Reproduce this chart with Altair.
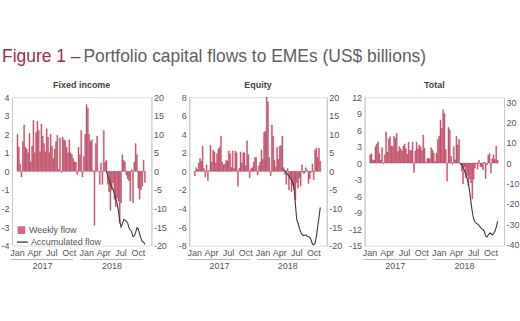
import altair as alt
import pandas as pd

FONT = "Liberation Sans, Arial, sans-serif"
BAR_FILL = "#d06a80"
BAR_EDGE = "#a8203f"
LINE_COL = "#3a3a3a"
AXIS_COL = "#555555"
LAB_SIZE = 9

# ---------------- data ----------------
first_week = "2017-01-04"
n_weeks = 97
week_dates = pd.date_range(first_week, periods=n_weeks, freq="7D")

fixed_income = [
    2.0, 1.3, 0.4, -0.3, 1.6, 2.5, 1.3, 1.2, 1.0, 2.05,
    0.5, 1.35, 2.75, 1.0, 2.1, 2.7, 2.2, 1.05, 2.55, 1.9,
    1.5, 1.05, 2.3, 1.85, 1.0, 2.0, 1.35, 0.7, 1.2, 1.6,
    1.95, 0.1, 1.8, -0.05, 1.85, 1.7, 1.65, 1.3, 1.0, 1.7,
    1.0, 0.9, 0.7, 0.5, 0.5, -0.15, 1.3, 0.9, 2.2, -0.3,
    0.8, 2.0, 3.6, 3.4, 2.0, 1.6, 1.7, 0.05, -2.9, 1.5,
    1.9, 0.0, -0.7, 0.45, -0.7, 2.2, 0.5, 0.6, -0.7, -1.1,
    -2.1, -1.0, -0.6, -1.5, -1.9, -1.4, -1.6, -2.8, -1.7, 0.9,
    0.6, 0.5, -0.2, -0.4, -0.5, -1.6, 0.1, -1.7, 0.5, 1.5,
    0.9, -0.9, -1.5, -1.0, -0.8, 0.6, -0.6,
]
equity = [
    -0.5, 0.4, 0.2, 0.9, 1.4, 1.1, 2.7, 0.3, -0.6, 0.7,
    -1.0, 0.1, 2.8, 1.0, 2.3, 2.1, 0.9, 1.9, 2.4, 2.6,
    3.8, 1.0, 0.7, 0.8, 1.2, 1.1, 2.2, 1.9, 0.4, 2.2,
    0.3, 2.2, 2.0, -1.6, 0.3, 2.1, 0.9, 2.0, 2.0, 0.6,
    3.3, 1.8, -0.7, 0.3, 0.4, 1.0, 1.5, 1.5, -0.4, 0.6,
    1.0, 2.3, 1.3, 4.2, 4.3, 8.0, 7.5, 1.5, -0.5, 5.0,
    3.8, 1.2, 0.5, 2.6, 1.3, 2.7, 2.8, 3.8, 0.4, -0.3,
    -1.4, 0.3, -2.0, -0.7, -2.2, -1.5, -2.0, -3.1, -1.2, -1.8,
    -0.7, -1.6, 0.7, -0.2, -0.2, 0.4, 0.1, -1.3, -0.8, -0.1,
    0.8, -0.9, 2.3, 2.5, 1.5, 2.5, 1.1,
]
total = [
    1.5, 1.7, 0.6, 0.5, 3.0, 3.5, 3.9, 1.7, 0.5, 2.8,
    -0.1, 1.5, 5.7, 2.0, 4.4, 4.8, 3.1, 3.0, 4.9, 4.5,
    5.4, 2.1, 3.0, 2.6, 2.2, 3.1, 3.5, 2.6, 1.6, 3.8,
    2.3, 2.3, 3.8, -1.7, 2.2, 3.8, 2.6, 3.3, 3.0, 2.3,
    5.1, 2.7, 0.1, 0.8, 0.9, 0.8, 2.8, 2.4, 1.8, 0.3,
    1.8, 4.3, 4.9, 7.8, 6.3, 9.7, 9.0, 2.5, -3.3, 6.5,
    6.0, 1.2, -0.2, 3.0, 0.6, 4.9, 3.3, 4.3, -0.3, -1.4,
    -3.8, -0.7, -2.6, -2.2, -4.1, -2.9, -3.6, -6.5, -2.9, -0.9,
    -0.1, -1.1, 0.5, -0.6, -0.7, -1.2, 0.2, -2.8, -0.3, 1.4,
    1.8, -1.8, 0.8, 1.5, 0.7, 3.1, 0.5,
]

# accumulated flows (start week index, values)
fi_acc_start = 67
fi_acc = [0, -1.2, -2.3, -3.4, -4.3, -4.9, -6.0, -7.2, -8.7, -10.6,
          -13.3, -15.0, -14.2, -13.0, -13.1, -13.5, -13.9, -15.2, -15.8, -16.2,
          -17.6, -17.4, -16.5, -15.2, -15.5, -16.9, -18.0, -18.9, -19.0, -19.7]
eq_acc_start = 68
eq_acc = [0.4, 0.2, -0.3, -0.8, -1.2, -1.9, -2.4, -3.0, -4.6, -9.0,
          -13.0, -14.0, -15.3, -16.3, -17.0, -17.3, -17.2, -17.1, -17.5, -17.6,
          -17.8, -18.5, -19.6, -19.8, -19.4, -17.5, -15.0, -12.5, -9.7]
tot_acc_start = 68
tot_acc = [0, -0.5, -2.0, -3.5, -5.5, -7.5, -10.0, -14.0, -19.5, -24.0,
           -27.5, -28.8, -29.5, -30.0, -30.6, -31.4, -32.2, -32.6, -33.5, -35.8,
           -36.3, -35.3, -34.4, -34.5, -35.3, -34.6, -33.5, -31.5, -28.6]

x_domain = ["2017-01-01", "2018-11-15"]
month_ticks = ["2017-01-01", "2017-04-01", "2017-07-01", "2017-10-01",
               "2018-01-01", "2018-04-01", "2018-07-01", "2018-10-01"]
year_labels = ["2017", "2018"]
year_label_dates = ["2017-05-16", "2018-05-17"]
year_line_starts = ["2016-12-01", "2017-12-04"]
year_line_ends = ["2017-10-24", "2018-10-28"]

title_parts = ["Figure 1 –", "Portfolio capital flows to EMEs (US$ billions)"]
panel_names = ["Fixed income", "Equity", "Total"]
legend_labels = ["Weekly flow", "Accumulated flow"]


def dt(s):
    t = pd.Timestamp(s)
    return alt.DateTime(year=t.year, month=t.month, date=t.day)


PANEL_H = 149

X_SCALE = alt.Scale(domain=[dt(x_domain[0]), dt(x_domain[1])])
X_AXIS = alt.Axis(values=[dt(m) for m in month_ticks], format="%b", title=None,
                  ticks=False, domain=False, grid=False, labelPadding=3,
                  labelFlush=False, labelOverlap=False, labelFont=FONT,
                  labelFontSize=LAB_SIZE, labelColor=AXIS_COL)


def xenc(field):
    return alt.X(field + ":T", scale=X_SCALE, axis=X_AXIS)


def panel(name, weekly, acc, acc_start, left_dom, left_ticks, right_dom, right_ticks,
          width, with_legend=False, with_title=False):
    bars_df = pd.DataFrame({"date": week_dates, "flow": weekly, "series": legend_labels[0]})
    line_df = pd.DataFrame({"date": week_dates[acc_start:acc_start + len(acc)],
                            "acc": acc, "series2": legend_labels[1]})
    years_df = pd.DataFrame({"year": year_labels, "mid": year_label_dates,
                             "start": year_line_starts, "end": year_line_ends})

    bar_enc = dict(
        x=xenc("date"),
        y=alt.Y("flow:Q", scale=alt.Scale(domain=left_dom, nice=False),
                axis=alt.Axis(orient="left", values=left_ticks, title=None, ticks=False,
                              grid=False, domainColor="#c8c8c8", labelPadding=3,
                              labelExpr="'' + datum.value", labelFont=FONT,
                              labelFontSize=LAB_SIZE, labelColor=AXIS_COL)),
    )
    if with_legend:
        bar_enc["color"] = alt.Color(
            "series:N", scale=alt.Scale(domain=[legend_labels[0]], range=[BAR_FILL]),
            legend=alt.Legend(orient="none", legendX=5, legendY=129, title=None,
                              symbolType="square", symbolSize=60, symbolStrokeWidth=0,
                              symbolFillColor="#b3294a", padding=0,
                              labelFont=FONT, labelFontSize=LAB_SIZE, labelColor=AXIS_COL,
                              labelOffset=3))
        bars = alt.Chart(bars_df).mark_bar(width=1.0, stroke=BAR_EDGE, strokeWidth=0.35).encode(**bar_enc)
    else:
        bars = alt.Chart(bars_df).mark_bar(width=1.0, fill=BAR_FILL, stroke=BAR_EDGE,
                                           strokeWidth=0.35).encode(**bar_enc)

    line_enc = dict(
        x=xenc("date"),
        y=alt.Y("acc:Q", scale=alt.Scale(domain=right_dom, nice=False),
                axis=alt.Axis(orient="right", values=right_ticks, title=None, ticks=False,
                              grid=False, domainColor="#c8c8c8", labelPadding=2,
                              labelExpr="'' + datum.value", labelFont=FONT,
                              labelFontSize=LAB_SIZE, labelColor=AXIS_COL)),
    )
    if with_legend:
        line_enc["stroke"] = alt.Stroke(
            "series2:N", scale=alt.Scale(domain=[legend_labels[1]], range=[LINE_COL]),
            legend=alt.Legend(orient="none", legendX=4, legendY=139, title=None,
                              symbolType="stroke", symbolSize=120, symbolStrokeWidth=1.3,
                              padding=0, labelFont=FONT, labelFontSize=LAB_SIZE,
                              labelColor=AXIS_COL, labelOffset=2))
        line = alt.Chart(line_df).mark_line(strokeWidth=1.1).encode(**line_enc)
    else:
        line = alt.Chart(line_df).mark_line(color=LINE_COL, strokeWidth=1.1).encode(**line_enc)

    seps = alt.Chart(years_df).mark_rule(color="#a0a0a0", strokeWidth=0.8).encode(
        x=xenc("start"), x2="end:T", y=alt.value(PANEL_H + 14))
    yrs = alt.Chart(years_df).mark_text(font=FONT, fontSize=LAB_SIZE, color=AXIS_COL,
                                        baseline="middle").encode(
        x=xenc("mid"), text="year:N", y=alt.value(PANEL_H + 20.5))
    ptitle = alt.Chart(pd.DataFrame({"t": [name]})).mark_text(
        font=FONT, fontSize=9, fontWeight="bold", color="#444444", align="center",
        baseline="middle").encode(text="t:N", x=alt.value(width / 2), y=alt.value(-12))

    layers = [bars, line, seps, yrs, ptitle]
    if with_title:
        t1 = alt.Chart(pd.DataFrame({"t": [title_parts[0]]})).mark_text(
            font=FONT, fontSize=17.5, color="#a4294d", align="left", baseline="alphabetic").encode(
            text="t:N", x=alt.value(-10), y=alt.value(-35))
        t2 = alt.Chart(pd.DataFrame({"t": [title_parts[1]]})).mark_text(
            font=FONT, fontSize=17.5, color="#616161", align="left", baseline="alphabetic").encode(
            text="t:N", x=alt.value(71.7), y=alt.value(-35))
        layers += [t1, t2]

    return alt.layer(*layers).resolve_scale(y="independent").properties(
        width=width, height=PANEL_H)


p1 = panel(panel_names[0], fixed_income, fi_acc, fi_acc_start, [-4, 4], list(range(-4, 5)),
           [-20, 20], list(range(-20, 21, 5)), 140, with_legend=True, with_title=True)
p2 = panel(panel_names[1], equity, eq_acc, eq_acc_start, [-8, 8], list(range(-8, 9, 2)),
           [-20, 20], list(range(-20, 21, 5)), 138)
p3 = panel(panel_names[2], total, tot_acc, tot_acc_start, [-15, 12], list(range(-15, 13, 3)),
           [-40.5, 32.4], list(range(-40, 31, 10)), 140)

chart = alt.hconcat(p1, p2, p3, spacing=38, bounds="flush").resolve_scale(
    color="independent", stroke="independent"
).properties(
    padding={"left": 0, "top": 47, "right": 0, "bottom": 0}
).configure_view(stroke=None).configure(background="white")

chart.save("out.html", embed_options={"renderer": "svg", "actions": False})
